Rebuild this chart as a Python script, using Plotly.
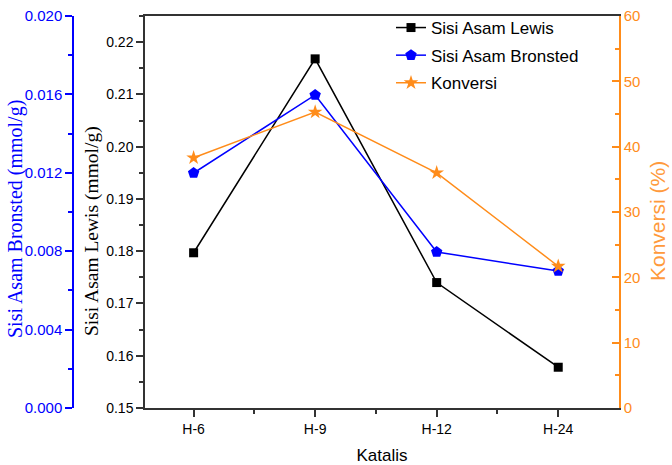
import plotly.graph_objects as go

categories = ["H-6", "H-9", "H-12", "H-24"]
lewis = [0.1797, 0.2168, 0.1740, 0.1578]
bronsted = [0.01199, 0.01597, 0.00796, 0.00699]
konversi = [38.3, 45.3, 36.0, 21.7]

x = list(range(len(categories)))
ORANGE = "#FF8C1A"
BLUE = "#0000FF"
AX = "#333333"
SANS = "Liberation Sans, Arial, sans-serif"
SERIF = "Liberation Serif, Times New Roman, serif"

fig = go.Figure()
fig.add_trace(go.Scatter(x=x, y=lewis, name="Sisi Asam Lewis", mode="lines+markers", legendgroup="a",
                         line=dict(color="#000000", width=1.5),
                         marker=dict(symbol="square", size=9, color="#000000"), yaxis="y"))
fig.add_trace(go.Scatter(x=x, y=bronsted, name="Sisi Asam Bronsted", mode="lines+markers", legendgroup="b",
                         line=dict(color=BLUE, width=1.5),
                         marker=dict(symbol="pentagon", size=12, color=BLUE), yaxis="y2"))
fig.add_trace(go.Scatter(x=x, y=konversi, name="Konversi", mode="lines+markers", legendgroup="c",
                         line=dict(color=ORANGE, width=1.5),
                         marker=dict(symbol="star", size=11, color=ORANGE), yaxis="y3"))

W, H = 672, 465
x0, x1 = 145, 619
T, B = 16, 408


def px(xp):
    return xp / W


def py(yp):
    return (B - yp) / (B - T)


fig.update_layout(
    width=W, height=H,
    margin=dict(l=0, r=0, t=T, b=H - B),
    plot_bgcolor="white", paper_bgcolor="white",
    font=dict(family=SANS, size=14, color="#000000"),
    showlegend=True,
    legend=dict(x=px(391), y=py(10), xanchor="left", yanchor="top",
                font=dict(family=SANS, size=17, color="#000000"),
                bgcolor="rgba(0,0,0,0)", traceorder="grouped", tracegroupgap=2.5),
    xaxis=dict(domain=[px(x0), px(x1)], range=[-0.4, 3.5],
               tickvals=x, ticktext=categories,
               showgrid=False, zeroline=False,
               showline=True, linecolor=AX, linewidth=1.5, mirror=True,
               ticks="outside", ticklen=7, tickwidth=1.5, tickcolor=AX,
               minor=dict(tickvals=[0.5, 1.5, 2.5], ticks="outside", ticklen=4, tickwidth=1.5, tickcolor=AX),
               tickfont=dict(family=SANS, size=14, color="#000000"),
               title=dict(text="Katalis", font=dict(family=SANS, size=17, color="#000000"), standoff=16)),
    yaxis=dict(range=[0.15, 0.225], dtick=0.01, tick0=0.15, tickformat=".2f",
               anchor="x", side="left",
               showgrid=False, zeroline=False,
               showline=True, linecolor=AX, linewidth=1.5,
               ticks="outside", ticklen=7, tickwidth=1.5, tickcolor=AX,
               minor=dict(dtick=0.005, tick0=0.15, ticks="outside", ticklen=4, tickwidth=1.5, tickcolor=AX),
               tickfont=dict(family=SANS, size=14, color="#000000")),
    yaxis2=dict(range=[0, 0.02], dtick=0.004, tick0=0, tickformat=".3f",
                overlaying="y", anchor="free", position=px(73), side="left",
                showgrid=False, zeroline=False,
                showline=True, linecolor=BLUE, linewidth=1.5,
                ticks="outside", ticklen=7, tickwidth=1.5, tickcolor=BLUE,
                minor=dict(dtick=0.002, tick0=0, ticks="outside", ticklen=4, tickwidth=1.5, tickcolor=BLUE),
                tickfont=dict(family=SANS, size=15, color=BLUE)),
    yaxis3=dict(range=[0, 60], dtick=10, tick0=0,
                overlaying="y", anchor="x", side="right",
                showgrid=False, zeroline=False,
                showline=True, linecolor=ORANGE, linewidth=1.5,
                ticks="inside", ticklen=7, tickwidth=1.5, tickcolor=ORANGE,
                minor=dict(dtick=5, tick0=0, ticks="inside", ticklen=4, tickwidth=1.5, tickcolor=ORANGE),
                tickfont=dict(family=SANS, size=15, color=ORANGE)),
)

titles = [
    ("Sisi Asam Bronsted (mmol/g)", 16, 219, SERIF, 20, BLUE),
    ("Sisi Asam Lewis (mmol/g)", 92, 231, SERIF, 19.5, "#000000"),
    ("Konversi (%)", 657, 221, SANS, 21, "#FF9A3C"),
]
for text, tx, ty, fam, size, col in titles:
    fig.add_annotation(text=text, xref="paper", yref="paper", x=px(tx), y=py(ty),
                       xanchor="center", yanchor="middle", textangle=-90, showarrow=False,
                       font=dict(family=fam, size=size, color=col))

fig.write_html("out.html")
